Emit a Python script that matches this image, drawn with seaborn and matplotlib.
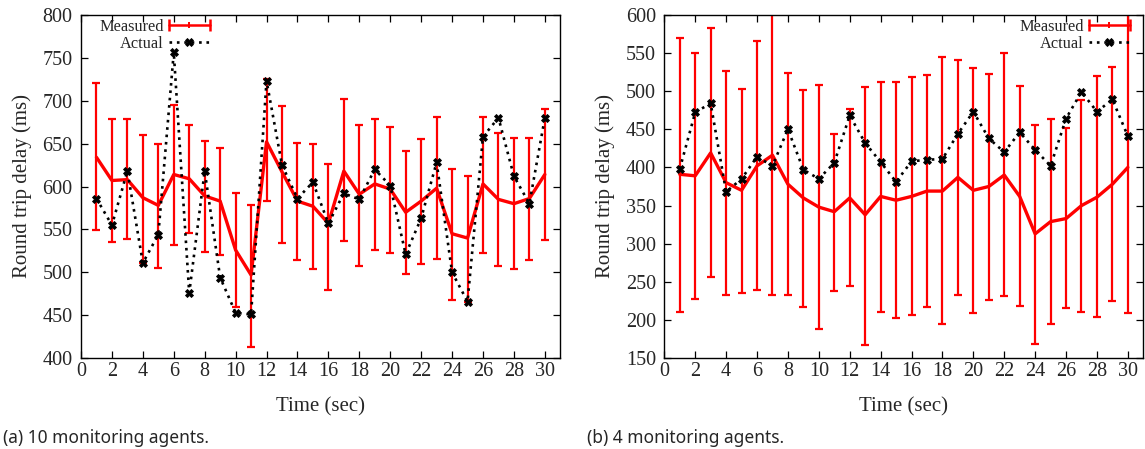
import numpy as np
import pandas as pd
import matplotlib
matplotlib.use("Agg")
import matplotlib.pyplot as plt
import seaborn as sns
from matplotlib.lines import Line2D
from matplotlib.legend_handler import HandlerLine2D

# ---- data -------------------------------------------------------------
time_sec = list(range(1, 31))

# (a) 10 monitoring agents
a_measured = [634, 607, 608, 587, 578, 614, 609, 589, 583, 526,
              497, 652, 617, 583, 577, 557, 618, 591, 603, 597,
              570, 583, 598, 545, 540, 603, 585, 580, 586, 614]
a_err_hi = [720, 679, 678, 660, 650, 695, 672, 653, 645, 592,
            578, 725, 694, 651, 650, 626, 702, 672, 679, 669,
            641, 655, 681, 620, 612, 681, 662, 656, 657, 690]
a_err_lo = [549, 535, 539, 511, 505, 532, 546, 524, 520, 460,
            413, 583, 534, 514, 504, 479, 536, 508, 526, 523,
            498, 510, 516, 468, 465, 523, 508, 504, 514, 538]
a_actual = [586, 555, 618, 511, 544, 756, 476, 618, 494, 453,
            451, 723, 625, 586, 605, 557, 592, 585, 620, 601,
            521, 563, 628, 500, 466, 658, 680, 612, 580, 680]

# (b) 4 monitoring agents
b_measured = [391, 389, 419, 380, 370, 402, 416, 378, 360, 348,
              342, 360, 338, 362, 357, 362, 369, 369, 387, 370,
              375, 390, 362, 313, 329, 333, 350, 361, 378, 400]
b_err_hi = [569, 550, 583, 526, 503, 565, 605, 524, 501, 508,
            444, 477, 505, 512, 512, 518, 521, 544, 541, 530,
            522, 550, 507, 456, 463, 452, 488, 520, 531, 605]
b_err_lo = [211, 228, 256, 233, 236, 239, 233, 233, 217, 188,
            238, 245, 168, 211, 203, 207, 217, 195, 233, 209,
            227, 231, 219, 169, 195, 216, 211, 204, 225, 209]
b_actual = [398, 472, 484, 368, 385, 414, 402, 450, 397, 385,
            406, 468, 432, 407, 381, 408, 410, 411, 444, 473,
            438, 420, 446, 423, 402, 464, 499, 473, 489, 441]

panels = [
    dict(measured=a_measured, hi=a_err_hi, lo=a_err_lo, actual=a_actual,
         ylim=(400, 800), ystep=50, caption="(a) 10 monitoring agents.",
         legend_loc="upper left", legend_anchor=(0.038, 0.988)),
    dict(measured=b_measured, hi=b_err_hi, lo=b_err_lo, actual=b_actual,
         ylim=(150, 600), ystep=50, caption="(b) 4 monitoring agents.",
         legend_loc="upper right", legend_anchor=(0.972, 0.988)),
]

# ---- style ------------------------------------------------------------
sns.set_theme(style="ticks")
plt.rcParams["font.family"] = ["Liberation Serif", "DejaVu Serif"]
plt.rcParams["axes.linewidth"] = 1.0

RED = "#ff0000"
DOTS = (0, (1.0, 1.8))
fig = plt.figure(figsize=(11.45, 4.49), dpi=100)

axes_boxes = [
    [81 / 1145, 1 - 358.3 / 449, (560.3 - 81) / 1145, (358.3 - 14.7) / 449],
    [664.3 / 1145, 1 - 358.3 / 449, (1143.3 - 664.3) / 1145, (358.3 - 14.7) / 449],
]
caption_x = [3 / 1145, 587 / 1145]

for box, cap_x, p in zip(axes_boxes, caption_x, panels):
    ax = fig.add_axes(box)
    df = pd.DataFrame({"t": time_sec, "measured": p["measured"],
                       "actual": p["actual"]})
    meas = np.array(p["measured"], dtype=float)
    yerr = np.vstack([meas - np.array(p["lo"]), np.array(p["hi"]) - meas])

    ax.errorbar(df["t"], meas, yerr=yerr, fmt="none", ecolor=RED,
                elinewidth=1.6, capsize=2.6, capthick=1.6, zorder=2)
    sns.lineplot(data=df, x="t", y="measured", ax=ax, color=RED,
                 linewidth=2.4, zorder=3)
    sns.lineplot(data=df, x="t", y="actual", ax=ax, color="black",
                 linewidth=1.9, linestyle=DOTS, marker="X",
                 markersize=6, markeredgewidth=0.6, markeredgecolor="black",
                 zorder=4)

    ax.set_xlim(0, 31)
    ax.set_ylim(*p["ylim"])
    ax.set_xticks(range(0, 31, 2))
    ax.set_yticks(np.arange(p["ylim"][0], p["ylim"][1] + 1, p["ystep"]))
    ax.tick_params(direction="in", top=True, right=True, length=5,
                   width=0.9, labelsize=14.5, color="black")
    ax.tick_params(axis="x", pad=3)
    ax.tick_params(axis="y", pad=6)
    for s in ax.spines.values():
        s.set_color("black")
        s.set_linewidth(1.0)
    ax.set_xlabel("Time (sec)", fontsize=15, labelpad=11)
    ax.set_ylabel("Round trip delay (ms)", fontsize=15, labelpad=7.5)
    ax.grid(False)

    # legend: red line with caps, black dotted line with marker
    caps = Line2D([], [], color=RED, linewidth=1.8, marker="|",
                  markersize=8, markeredgewidth=1.8)
    mid = Line2D([], [], color=RED, linestyle="none", marker="|",
                 markersize=4, markeredgewidth=1.4)
    act = Line2D([], [], color="black", linewidth=1.9, linestyle=DOTS,
                 marker="X", markersize=6, markeredgewidth=0.6)
    ax.legend([(caps, mid), act], ["Measured", "Actual"],
              loc=p["legend_loc"], bbox_to_anchor=p["legend_anchor"],
              markerfirst=False, frameon=False,
              fontsize=11.8, handlelength=2.5, handletextpad=0.3,
              labelspacing=0.05, borderaxespad=0.0, borderpad=0.0,
              handler_map={caps: HandlerLine2D(numpoints=2, marker_pad=0),
                           mid: HandlerLine2D(numpoints=1),
                           act: HandlerLine2D(numpoints=1)})

    fig.text(cap_x, 1 - 438 / 449, p["caption"], fontsize=12.5,
             family=["Noto Sans", "DejaVu Sans"], va="center", ha="left")

fig.savefig("out.png", dpi=100)
